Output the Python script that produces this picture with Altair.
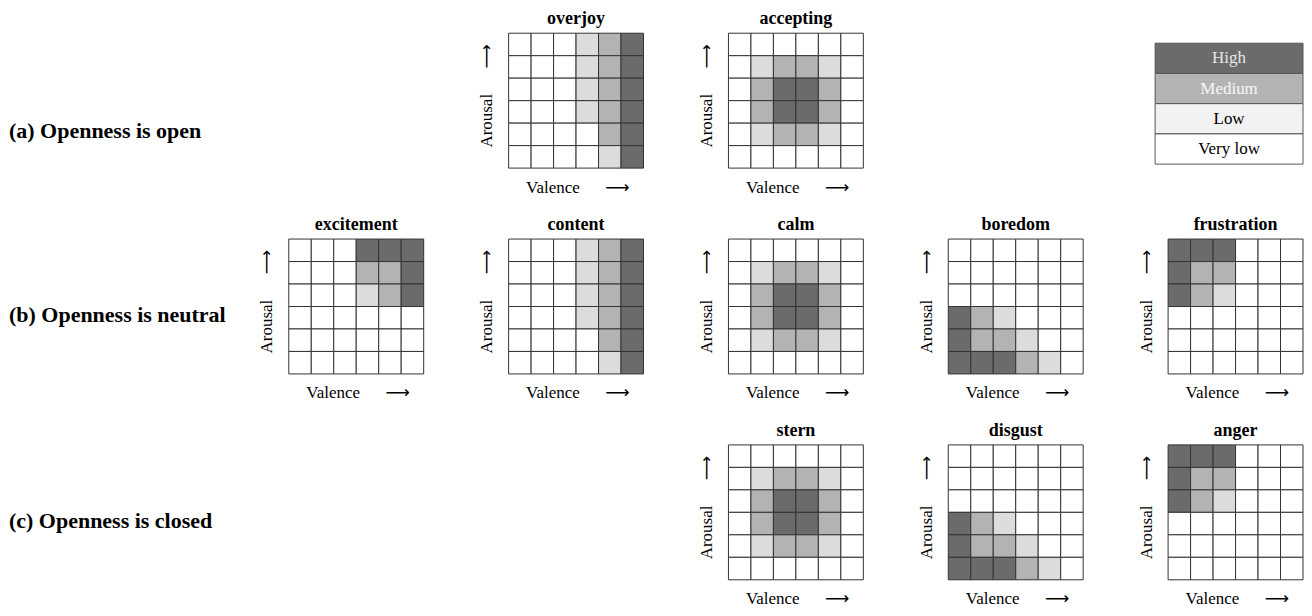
import altair as alt
import pandas as pd

# ---------------- data ----------------
levels = ["Very low", "Low", "Medium", "High"]          # 0..3
cell_colors = ["#ffffff", "#dcdcdc", "#b3b3b3", "#6b6b6b"]

legend_levels = ["High", "Medium", "Low", "Very low"]
legend_fill = ["#6b6b6b", "#b3b3b3", "#f2f2f2", "#ffffff"]
legend_text = ["#e6e6e6", "#f8f8f8", "#000000", "#000000"]

row_labels = ["(a) Openness is open", "(b) Openness is neutral", "(c) Openness is closed"]

# matrices: rows = arousal from high (top) to low (bottom); cols = valence low -> high
overjoy = [[0, 0, 0, 1, 2, 3],
           [0, 0, 0, 1, 2, 3],
           [0, 0, 0, 1, 2, 3],
           [0, 0, 0, 1, 2, 3],
           [0, 0, 0, 0, 2, 3],
           [0, 0, 0, 0, 1, 3]]
accepting = [[0, 0, 0, 0, 0, 0],
             [0, 1, 2, 2, 1, 0],
             [0, 2, 3, 3, 2, 0],
             [0, 2, 3, 3, 2, 0],
             [0, 1, 2, 2, 1, 0],
             [0, 0, 0, 0, 0, 0]]
excitement = [[0, 0, 0, 3, 3, 3],
              [0, 0, 0, 2, 2, 3],
              [0, 0, 0, 1, 2, 3],
              [0, 0, 0, 0, 0, 0],
              [0, 0, 0, 0, 0, 0],
              [0, 0, 0, 0, 0, 0]]
content = [[0, 0, 0, 1, 2, 3],
           [0, 0, 0, 1, 2, 3],
           [0, 0, 0, 1, 2, 3],
           [0, 0, 0, 1, 2, 3],
           [0, 0, 0, 0, 2, 3],
           [0, 0, 0, 0, 1, 3]]
calm = [[0, 0, 0, 0, 0, 0],
        [0, 1, 2, 2, 1, 0],
        [0, 2, 3, 3, 2, 0],
        [0, 2, 3, 3, 2, 0],
        [0, 1, 2, 2, 1, 0],
        [0, 0, 0, 0, 0, 0]]
boredom = [[0, 0, 0, 0, 0, 0],
           [0, 0, 0, 0, 0, 0],
           [0, 0, 0, 0, 0, 0],
           [3, 2, 1, 0, 0, 0],
           [3, 2, 2, 1, 0, 0],
           [3, 3, 3, 2, 1, 0]]
frustration = [[3, 3, 3, 0, 0, 0],
               [3, 2, 2, 0, 0, 0],
               [3, 2, 1, 0, 0, 0],
               [0, 0, 0, 0, 0, 0],
               [0, 0, 0, 0, 0, 0],
               [0, 0, 0, 0, 0, 0]]
stern = [[0, 0, 0, 0, 0, 0],
         [0, 1, 2, 2, 1, 0],
         [0, 2, 3, 3, 2, 0],
         [0, 2, 3, 3, 2, 0],
         [0, 1, 2, 2, 1, 0],
         [0, 0, 0, 0, 0, 0]]
disgust = [[0, 0, 0, 0, 0, 0],
           [0, 0, 0, 0, 0, 0],
           [0, 0, 0, 0, 0, 0],
           [3, 2, 1, 0, 0, 0],
           [3, 2, 2, 1, 0, 0],
           [3, 3, 3, 2, 1, 0]]
anger = [[3, 3, 3, 0, 0, 0],
         [3, 2, 2, 0, 0, 0],
         [3, 2, 1, 0, 0, 0],
         [0, 0, 0, 0, 0, 0],
         [0, 0, 0, 0, 0, 0],
         [0, 0, 0, 0, 0, 0]]

# ---------------- styling ----------------
SERIF = "Liberation Serif, Times New Roman, DejaVu Serif"
ARROW_FONT = "Liberation Serif, DejaVu Sans"
G = 135          # grid size
HSP = 85         # horizontal gap between grids
VSP = 71         # vertical gap between rows


def panel(name, matrix):
    recs = []
    for r, row in enumerate(matrix):
        for c, v in enumerate(row):
            recs.append({"valence": c, "arousal": 5 - r, "level": v})
    df = pd.DataFrame(recs)
    return alt.Chart(df).mark_rect(stroke="#333333", strokeWidth=1).encode(
        x=alt.X("valence:O",
                scale=alt.Scale(paddingInner=0, paddingOuter=0),
                axis=alt.Axis(title="Valence\u2003\u2002\u27f6", labels=False, ticks=False,
                              domain=False, grid=False, titleX=17, titleY=24,
                              titleAlign="left", titleBaseline="alphabetic",
                              titleFont=ARROW_FONT, titleFontSize=17,
                              titleFontWeight="normal", titleColor="black")),
        y=alt.Y("arousal:O", sort="descending",
                scale=alt.Scale(paddingInner=0, paddingOuter=0),
                axis=alt.Axis(title="Arousal\u2003\u2002\u27f6", labels=False, ticks=False,
                              domain=False, grid=False, titleX=-17, titleY=114,
                              titleAngle=270, titleAlign="left",
                              titleBaseline="alphabetic",
                              titleFont=ARROW_FONT, titleFontSize=17,
                              titleFontWeight="normal", titleColor="black")),
        color=alt.Color("level:O",
                        scale=alt.Scale(domain=[0, 1, 2, 3], range=cell_colors),
                        legend=None),
    ).properties(
        width=G, height=G,
        title=alt.TitleParams(name, font=SERIF, fontSize=18, fontWeight="bold",
                              color="black", offset=-9.5, baseline="alphabetic",
                              anchor="middle", frame="group"),
    )


def spacer():
    return alt.Chart(pd.DataFrame({"v": [0]})).mark_text(text="").encode(
        x=alt.value(0)).properties(width=G, height=G)


def row_label(text, ypos):
    return alt.Chart(pd.DataFrame({"label": [text]})).mark_text(
        align="left", baseline="middle", font=SERIF, fontSize=22,
        fontWeight="bold", color="black"
    ).encode(text="label:N", x=alt.value(1), y=alt.value(ypos)).properties(
        width=196, height=G)


legend_df = pd.DataFrame({"level": legend_levels, "fill": legend_fill,
                          "tcol": legend_text, "box": "legend"})
leg_x = alt.X("box:N", axis=None,
              scale=alt.Scale(paddingInner=0, paddingOuter=0, range=[-13, 135]))
leg_y = alt.Y("level:N", sort=legend_levels, axis=None,
              scale=alt.Scale(paddingInner=0, paddingOuter=0, range=[10, 131]))
legend_rect = alt.Chart(legend_df).mark_rect(stroke="#555555", strokeWidth=1).encode(
    x=leg_x, y=leg_y, color=alt.Color("fill:N", scale=None))
legend_txt = alt.Chart(legend_df).mark_text(font=SERIF, fontSize=17,
                                            baseline="middle").encode(
    x=leg_x, y=leg_y, text="level:N", color=alt.Color("tcol:N", scale=None))
legend = alt.layer(legend_rect, legend_txt).properties(width=G, height=G)

cells = [
    row_label(row_labels[0], 98), spacer(),
    panel("overjoy", overjoy), panel("accepting", accepting), spacer(), legend,
    row_label(row_labels[1], 76),
    panel("excitement", excitement), panel("content", content),
    panel("calm", calm), panel("boredom", boredom), panel("frustration", frustration),
    row_label(row_labels[2], 76.5), spacer(), spacer(),
    panel("stern", stern), panel("disgust", disgust), panel("anger", anger),
]

chart = alt.concat(
    *cells, columns=6, spacing={"row": VSP, "column": HSP}, bounds="flush",
    align="each", padding={"top": 2, "left": 0, "right": 0, "bottom": 0},
    background="white",
).configure_view(stroke=None)

chart.save("out.html", embed_options={"renderer": "svg", "actions": False})
